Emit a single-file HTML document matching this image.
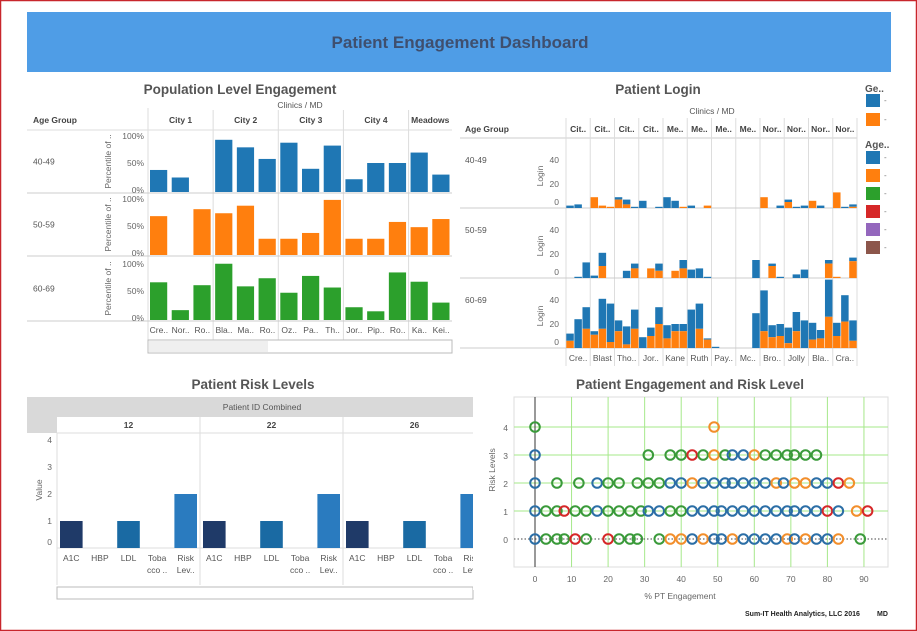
<!DOCTYPE html>
<html><head><meta charset="utf-8">
<style>
html,body{margin:0;padding:0;background:#fff;}
svg{display:block;font-family:"Liberation Sans",sans-serif;}
.t{font-weight:bold;fill:#555;font-size:13.5px;}
.ax{font-size:8.5px;fill:#666;}
.hd{font-size:8.5px;fill:#444;font-weight:bold;}
.lab{font-size:8.5px;fill:#555;}
</style></head>
<body>
<svg id="dash" width="917" height="631" viewBox="0 0 917 631" xmlns="http://www.w3.org/2000/svg">
<rect x="0.5" y="0.5" width="916" height="630" fill="#fff" stroke="#c8262c" stroke-width="1.5"/>
<g>
<rect x="27" y="12" width="864" height="60" fill="#4f9de6"/>
<text x="460" y="48" text-anchor="middle" font-size="17" font-weight="bold" fill="#3f4f6e">Patient Engagement Dashboard</text>
</g>

<g id="pop">
<text class="t" x="240" y="94" text-anchor="middle">Population Level Engagement</text>
<text class="lab" x="300" y="108" text-anchor="middle">Clinics  /  MD</text>
<text class="hd" x="33" y="123">Age Group</text>
</g>

<g id="login">
<text class="t" x="658" y="94" text-anchor="middle">Patient Login</text>
<text class="lab" x="712" y="114" text-anchor="middle">Clinics  /  MD</text>
<text class="hd" x="465" y="132">Age Group</text>
</g>

<g id="legend">
<text x="865" y="92" font-size="10" font-weight="bold" fill="#555">Ge..</text>
<text x="865" y="148" font-size="10" font-weight="bold" fill="#555">Age..</text>
</g>

<g id="risk">
<text class="t" x="253" y="389" text-anchor="middle">Patient Risk Levels</text>
<rect x="27" y="397" width="446" height="20" fill="#d9d9d9"/>
<rect x="27" y="417" width="30" height="16" fill="#d9d9d9"/>
<text class="lab" x="262" y="410" text-anchor="middle">Patient ID Combined</text>
<text class="ax" x="42" y="490" text-anchor="middle" transform="rotate(-90 42 490)">Value</text>
<rect x="57" y="587" width="416" height="12" fill="#fff" stroke="#bbb"/>
</g>

<g id="scat">
<text class="t" x="690" y="389" text-anchor="middle">Patient Engagement and Risk Level</text>
<text class="ax" x="680" y="599" text-anchor="middle" font-size="10">% PT Engagement</text>
<text class="ax" x="495" y="470" text-anchor="middle" font-size="10" transform="rotate(-90 495 470)">Risk Levels</text>
</g>
<text x="745" y="616" font-size="7" font-weight="bold" fill="#222">Sum-IT Health Analytics, LLC 2016</text>
<text x="877" y="616" font-size="7" font-weight="bold" fill="#222">MD</text>
</svg>
<script>
const popCities = ["City 1","City 2","City 3","City 4","Meadows"];
const popCityCounts = [3,3,3,3,2];
const popClinics = ["Cre..","Nor..","Ro..","Bla..","Ma..","Ro..","Oz..","Pa..","Th..","Jor..","Pip..","Ro..","Ka..","Kei.."];
const popAgeGroups = ["40-49","50-59","60-69"];
const pop4049 = [38,25,0,90,77,57,85,40,80,22,50,50,68,30];
const pop5059 = [67,0,79,72,85,28,28,38,95,28,28,57,48,62];
const pop6069 = [65,17,60,97,58,72,47,76,56,22,15,82,66,30];
const popTicks = ["100%","50%","0%"];

const loginCols = ["Cit..","Cit..","Cit..","Cit..","Me..","Me..","Me..","Me..","Nor..","Nor..","Nor..","Nor.."];
const loginMDs = ["Cre..","Blast","Tho..","Jor..","Kane","Ruth","Pay..","Mc..","Bro..","Jolly","Bla..","Cra.."];
const login4049Total = [2,3,0, 9,2,1, 9,7,1, 6,0,1, 9,6,1, 2,0,2, 0,0,0, 0,0,0, 9,0,2, 7,1,2, 6,2,0, 13,1,3];
const login4049Orange= [0,0,0, 9,2,1, 7,3,0, 0,0,0, 0,0,1, 0,0,2, 0,0,0, 0,0,0, 9,0,0, 5,0,0, 6,0,0, 13,0,1];
const login5059Total = [0,1,13, 2,21,0, 0,6,12, 0,8,12, 0,6,15, 7,8,1, 0,0,0, 0,0,15, 0,12,1, 0,3,7, 0,0,15, 1,0,17];
const login5059Orange= [0,0,0, 0,10,0, 0,0,8, 0,8,6, 0,6,8, 0,0,0, 0,0,0, 0,0,0, 0,10,0, 0,0,0, 0,0,12, 1,0,14];
const login6069Total = [12,24,34, 14,41,37, 23,18,32, 9,17,34, 19,20,20, 32,37,8, 1,0,0, 0,0,29, 48,19,20, 17,30,23, 21,15,57, 21,44,23];
const login6069Orange= [6,0,16, 11,16,5, 14,3,16, 0,10,20, 8,14,14, 0,16,7, 0,0,0, 0,0,0, 14,9,10, 4,14,0, 7,8,26, 10,22,6];
const loginTicks = [40,20,0];

const riskPatients = ["12","22","26"];
const riskCats = ["A1C","HBP","LDL","Toba|cco ..","Risk|Lev.."];
const riskValues = [1,0,1,0,2];
const riskTicks = [4,3,2,1,0];

const scatX0 = [0,3,6,8,11,14,20,23,26,28,34,37,40,43,46,49,51,54,57,60,63,66,69,71,74,77,80,83,89];
const scatC0 = "bgggrgrggggoobobbobbbbobobbog";
const scatX1 = [0,3,6,8,11,14,17,20,23,26,29,31,34,37,40,43,46,49,51,54,57,60,63,66,69,71,74,77,80,83,88,91];
const scatC1 = "bggrggbggggbbggbbbbbbbbbbbbbrbor";
const scatX2 = [0,6,12,17,20,23,28,31,34,37,40,43,46,49,52,54,57,60,63,66,68,71,74,77,80,83,86];
const scatC2 = "bggbgggggbbobbbbbbboboobbro";
const scatX3 = [0,31,37,40,43,46,49,52,54,57,60,63,66,69,71,74,77];
const scatC3 = "bgggrgogbbogggggg";
const scatX4 = [0,49];
const scatC4 = "go";
const scatXTicks = [0,10,20,30,40,50,60,70,80,90];
const scatYTicks = [0,1,2,3,4];

const NS="http://www.w3.org/2000/svg";
function mk(parent,tag,attrs,text){const e=document.createElementNS(NS,tag);for(const k in attrs)e.setAttribute(k,attrs[k]);if(text!==undefined)e.textContent=text;parent.appendChild(e);return e;}

(function(){
 const g=document.getElementById('pop');
 const x0=148,x1=452,step=(x1-x0)/popClinics.length;
 const rowTop=[130,193,256],rowBot=[193,256,321];
 const py=v=>v*0.58;
 const series=[pop4049,pop5059,pop6069],cols=["#1f77b4","#ff7f0e","#2ca02c"];
 mk(g,'line',{x1:x0,y1:108,x2:x0,y2:340,stroke:"#ddd"});
 let ci=0;
 popCities.forEach((c,i)=>{
  const cx=x0+ci*step,w=popCityCounts[i]*step;
  const t=mk(g,'text',{class:'hd',x:cx+w/2,y:123,'text-anchor':'middle'},c);
  
  
  ci+=popCityCounts[i];
  if(i<popCities.length-1) mk(g,'line',{x1:x0+ci*step,y1:110,x2:x0+ci*step,y2:340,stroke:"#ddd"});
 });
 mk(g,'line',{x1:27,y1:130,x2:452,y2:130,stroke:"#ddd"});
 popAgeGroups.forEach((a,r)=>{
  mk(g,'line',{x1:27,y1:rowBot[r],x2:452,y2:rowBot[r],stroke:"#ccc"});
  mk(g,'text',{class:'lab',x:33,y:(rowTop[r]+rowBot[r])/2+3},a);
  const b=rowBot[r]-1;
  popTicks.forEach((t,k)=>{const v=[100,50,0][k];mk(g,'text',{class:'ax',x:144,y:b-py(v)+3+(v===0?-2:0)+(v===100?2:0),'text-anchor':'end'},t);});
  mk(g,'text',{class:'ax',x:111,y:(rowTop[r]+rowBot[r])/2,'text-anchor':'middle',transform:`rotate(-90 111 ${(rowTop[r]+rowBot[r])/2})`},'Percentile of ..');
  series[r].forEach((v,i)=>{
   const h=py(v);
   const rc=mk(g,'rect',{x:x0+i*step+2,y:b-h,width:step-4.5,height:h,fill:cols[r]});
   
   
  });
 });
 popClinics.forEach((c,i)=>mk(g,'text',{class:'lab',x:x0+i*step+step/2,y:333,'text-anchor':'middle'},c));
 const sb=mk(g,'rect',{x:148,y:340,width:304,height:13,fill:'#fff',stroke:'#bbb'});
 
 
 mk(g,'rect',{x:149,y:341,width:119,height:11,fill:'#efefef'});
})();

(function(){
 const g=document.getElementById('login');
 const x0=566,x1=857,cw=(x1-x0)/loginCols.length,bw=cw/3;
 const rowTop=[138,208,278],rowBot=[208,278,348];
 const sc=1.2;
 const tot=[login4049Total,login5059Total,login6069Total],org=[login4049Orange,login5059Orange,login6069Orange];
 mk(g,'line',{x1:460,y1:138,x2:857,y2:138,stroke:"#ccc"});
 for(let i=0;i<=loginCols.length;i++) mk(g,'line',{x1:x0+i*cw,y1:118,x2:x0+i*cw,y2:366,stroke:"#ddd"});
 loginCols.forEach((c,i)=>mk(g,'text',{class:'hd',x:x0+i*cw+cw/2,y:132,'text-anchor':'middle'},c));
 popAgeGroups.forEach((a,r)=>{
  mk(g,'line',{x1:460,y1:rowBot[r],x2:857,y2:rowBot[r],stroke:"#ccc"});
  mk(g,'text',{class:'lab',x:465,y:(rowTop[r]+rowBot[r])/2-10},a);
  const b=rowBot[r];
  loginTicks.forEach(v=>mk(g,'text',{class:'ax',x:559,y:b-v*sc-(v===0?3:-3),'text-anchor':'end'},String(v)));
  const my=b-32;
  mk(g,'text',{class:'ax',x:543,y:my,'text-anchor':'middle',transform:`rotate(-90 543 ${my})`},'Login');
  tot[r].forEach((t,i)=>{
   const o=org[r][i],x=x0+i*bw+0.3;
   if(t>o){const rc=mk(g,'rect',{x:x,y:b-t*sc,width:bw-0.6,height:(t-o)*sc,fill:'#1f77b4'});
    
    }
   if(o>0){const rc=mk(g,'rect',{x:x,y:b-o*sc,width:bw-0.6,height:o*sc,fill:'#ff7f0e'});
    
    }
  });
 });
 loginMDs.forEach((c,i)=>mk(g,'text',{class:'lab',x:x0+i*cw+cw/2,y:361,'text-anchor':'middle'},c));
})();

(function(){
 const g=document.getElementById('legend');
 const items=[[94,'#1f77b4'],[113,'#ff7f0e'],[151,'#1f77b4'],[169,'#ff7f0e'],[187,'#2ca02c'],[205,'#d62728'],[223,'#9467bd'],[241,'#8c564b']];
 items.forEach(([y,c])=>{
  const r=mk(g,'rect',{x:866,y:y,width:14,height:13,fill:c});
  
  
  mk(g,'text',{x:884,y:y+9,'font-size':8,fill:'#777'},'-');
 });
})();

(function(){
 const g=document.getElementById('risk');
 const px=[57,200,343],pw=143,cw=pw/riskCats.length,base=548,u=27;
 const fills=['#1f3a68','#2a5a8a','#1a6aa3','#2a5a8a','#2a7bbf'];
 mk(g,'line',{x1:57,y1:433,x2:473,y2:433,stroke:'#ddd'});
 mk(g,'line',{x1:57,y1:548,x2:473,y2:548,stroke:'#ddd'});
 mk(g,'line',{x1:57,y1:433,x2:57,y2:585,stroke:'#ddd'});
 riskTicks.forEach(v=>mk(g,'text',{class:'ax',x:52,y:base-v*u-(v===0?3:-3),'text-anchor':'end'},String(v)));
 riskPatients.forEach((p,k)=>{
  const x0=px[k];
  const t=mk(g,'text',{class:'hd',x:x0+pw/2,y:428,'text-anchor':'middle'},p);
  
  
  if(k>0) mk(g,'line',{x1:x0,y1:417,x2:x0,y2:585,stroke:'#ddd'});
  riskCats.forEach((c,i)=>{
   const v=riskValues[i];
   const bx=x0+i*cw+3;
   if(bx<473&&v>0){
    const w=Math.min(cw-6,473-bx);
    const r=mk(g,'rect',{x:bx,y:base-v*u,width:w,height:v*u,fill:fills[i]});
    
    
   }
   const parts=c.split('|');
   parts.forEach((s,j)=>{ if(x0+i*cw+cw/2<480) mk(g,'text',{class:'lab',x:x0+i*cw+cw/2,y:561+j*12,'text-anchor':'middle'},s);});
  });
 });
 mk(g,'rect',{x:473,y:430,width:8,height:160,fill:'#fff'});
})();

(function(){
 const g=document.getElementById('scat');
 const sx=v=>535+v*3.655, sy=v=>539-v*28;
 const L=514,R=888,T=397,B=567;
 mk(g,'rect',{x:L,y:T,width:R-L,height:B-T,fill:'#fff',stroke:'#ddd'});
 scatXTicks.forEach(v=>{
  if(v>0) mk(g,'line',{x1:sx(v),y1:T,x2:sx(v),y2:B,stroke:'#a6e88a'});
  mk(g,'text',{class:'ax','font-size':10,x:sx(v),y:582,'text-anchor':'middle'},String(v));
 });
 scatYTicks.forEach(v=>{
  if(v>0) mk(g,'line',{x1:L,y1:sy(v),x2:R,y2:sy(v),stroke:'#a6e88a'});
  mk(g,'text',{class:'ax','font-size':10,x:508,y:sy(v)+4,'text-anchor':'end'},String(v));
 });
 mk(g,'line',{x1:L,y1:sy(0),x2:R,y2:sy(0),stroke:'#444','stroke-dasharray':'1.5 2'});
 mk(g,'line',{x1:sx(0),y1:T,x2:sx(0),y2:B,stroke:'#333'});
 const col={b:'#2b6ea6',g:'#3a9a3a',o:'#f28e2b',r:'#d62728'};
 const sets=[[scatX0,scatC0,0],[scatX1,scatC1,1],[scatX2,scatC2,2],[scatX3,scatC3,3],[scatX4,scatC4,4]];
 sets.forEach(([xs,cs,y])=>{
  xs.forEach((x,i)=>{
   const c=mk(g,'circle',{cx:sx(x),cy:sy(y),r:4.8,fill:'none',stroke:col[cs[i]]||col.b,'stroke-width':2});
   
   
  });
 });
})();
</script>
</body></html>
